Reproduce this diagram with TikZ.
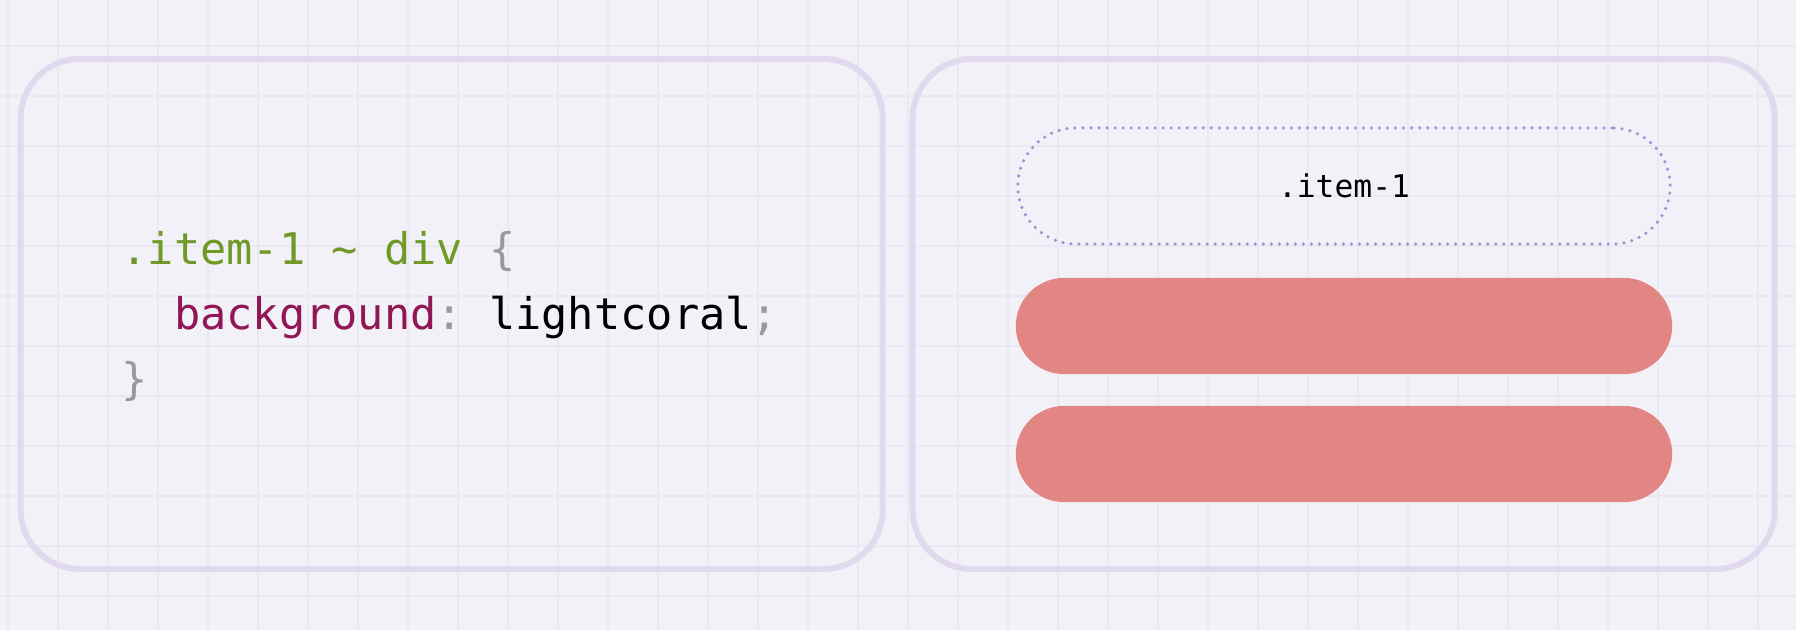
\documentclass[tikz,border=0pt]{standalone}
\usepackage{fontspec}
\setmonofont{DejaVu Sans Mono}
\definecolor{pagebg}{HTML}{F2F1F8}
\definecolor{gridline}{HTML}{EAE8F2}
\definecolor{panelline}{HTML}{E1DAEE}
\definecolor{dotline}{HTML}{A58ED2}
\definecolor{coral}{HTML}{E18682}
\definecolor{selgreen}{RGB}{112,153,38}
\definecolor{propred}{RGB}{145,22,85}
\definecolor{punctgray}{HTML}{999999}
\tikzset{
  panel/.style={draw=panelline, line width=1.7pt, rounded corners=0.59cm},
  itembox/.style={draw=dotline, line width=1pt, line cap=round,
    dash pattern=on 0pt off 2.28pt, rounded corners=0.58cm,
    minimum width=6.52cm, minimum height=1.16cm, inner sep=0pt},
  coralbox/.style={fill=coral, rounded corners=0.48cm,
    minimum width=6.56cm, minimum height=0.96cm, inner sep=0pt},
  codeline/.style={anchor=base west, inner sep=0pt}
}
\begin{document}
\begin{tikzpicture}[x=0.01cm,y=-0.01cm]
				\newcommand{\myfontcode}[1]{
					\fontsize{12.4}{14}\selectfont\ttfamily{#1}
				}\newcommand{\myfontlabel}[1]{
					\fontsize{8.9}{12}\selectfont\ttfamily{#1}
				}%Background and grid
				\fill[pagebg] (0,0) rectangle (1796,630);
				\useasboundingbox (0,0) rectangle (1796,630);
				\foreach \gx in {8,58,...,1758} {
					\draw[gridline, line width=0.5pt] (\gx,0) -- (\gx,630);
				}
				\foreach \gy in {46,96,...,596} {
					\draw[gridline, line width=0.5pt] (0,\gy) -- (1796,\gy);
				}
				%The two panels
				\draw[panel] (20.7,59) rectangle (882.7,569);
				\draw[panel] (912.7,59) rectangle (1774.7,569);
				%The code
				\coordinate (line1) at (121,264);
				\coordinate (line2) at (121,329);
				\coordinate (line3) at (121,394);
				\node [codeline] (selector) at (line1) {\myfontcode{\textcolor{selgreen}{.item-1 \textasciitilde{} div} \textcolor{punctgray}{\{}}};
				\node [codeline] (decl) at (line2) {\myfontcode{\phantom{xx}\textcolor{propred}{background}\textcolor{punctgray}{:} lightcoral\textcolor{punctgray}{;}}};
				\node [codeline] (close) at (line3) {\myfontcode{\textcolor{punctgray}{\}}}};
				%The result
				\coordinate (center1) at (1344,186);
				\coordinate (center2) at (1344,326);
				\coordinate (center3) at (1344,454);
				\node [itembox] (item1) at (center1) {\myfontlabel{.item-1}};
				\node [coralbox] (item2) at (center2) {};
				\node [coralbox] (item3) at (center3) {};
\end{tikzpicture}
\end{document}
